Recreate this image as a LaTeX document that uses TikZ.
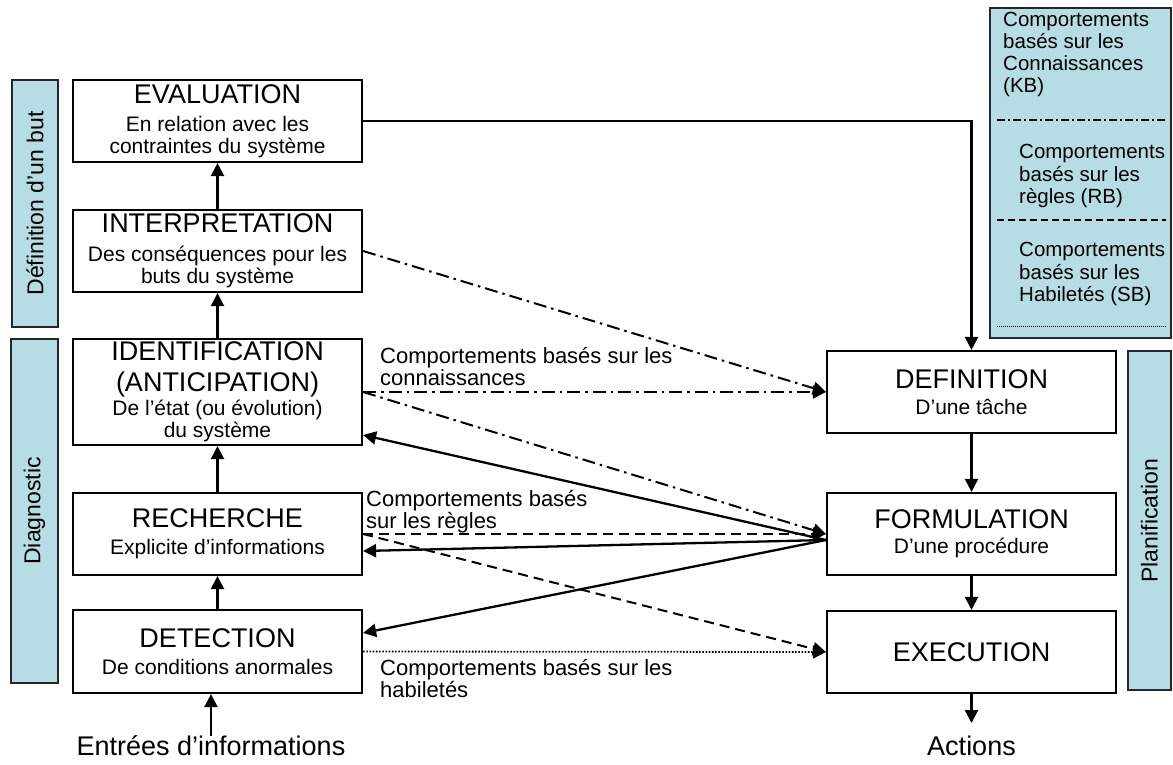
\documentclass[tikz,border=0pt]{standalone}
\usepackage{fontspec}
\setmainfont{Liberation Sans}
\usetikzlibrary{arrows.meta}
\definecolor{barblue}{RGB}{183,221,228}
\newcommand\hdf{\fontsize{27}{30}\selectfont}
\newcommand\bdf{\fontsize{21}{22}\selectfont}
\newcommand\lbf{\fontsize{22}{22}\selectfont}
\newcommand\lgf{\fontsize{20.5}{22}\selectfont}
\newcommand\brf{\fontsize{23}{26}\selectfont}
\newcommand\btf{\fontsize{27}{30}\selectfont}
\begin{document}
\begin{tikzpicture}[x=1pt,y=-1pt,
  pbox/.style={draw, line width=2.2pt, fill=white, minimum width=289pt, minimum height=82pt, inner sep=0pt, align=center, font=\bdf},
  sidebar/.style={draw, line width=1.8pt, draw=black!85, fill=barblue, inner sep=0pt},
  bartext/.style={rotate=90, font=\brf, inner sep=0pt},
  tip/.style={-{Triangle[length=13pt,width=13pt]}},
  conn/.style={line width=2.3pt, tip},
  kb/.style={line width=2pt, dash pattern=on 13pt off 5pt on 2.5pt off 5pt, tip},
  rb/.style={line width=2pt, dash pattern=on 10pt off 6pt, tip},
  sb/.style={line width=1.8pt, dash pattern=on 1.6pt off 1.6pt, tip},
  lbl/.style={font=\lbf, inner sep=0pt, anchor=base west},
  lgd/.style={font=\lgf, inner sep=0pt, anchor=base west}
]
\useasboundingbox (0,0) rectangle (1173,765);

% side bars
\node[sidebar, minimum width=46pt, minimum height=247pt] (bA) at (35,203.5) {};
\node[bartext] (bAt) at (bA.center) {Définition d’un but};
\node[sidebar, minimum width=47pt, minimum height=344pt] (bD) at (34.5,511) {};
\node[bartext] (bDt) at (bD.center) {Diagnostic};
\node[sidebar, minimum width=43pt, minimum height=339pt] (bP) at (1149.5,520.5) {};
\node[bartext] (bPt) at (bP.center) {Planification};

% legend
\node[sidebar, minimum width=181pt, minimum height=330pt] (leg) at (1080.5,173) {};
\node[lgd] (g1a) at (1003,27) {Comportements};
\node[lgd] (g1b) at (1003,49) {basés sur les};
\node[lgd] (g1c) at (1003,71) {Connaissances};
\node[lgd] (g1d) at (1003,93) {(KB)};
\draw[line width=1.2pt, dash pattern=on 8pt off 3pt on 2pt off 3pt] (997,120) -- (1166,120);
\node[lgd] (g2a) at (1019,159) {Comportements};
\node[lgd] (g2b) at (1019,182) {basés sur les};
\node[lgd] (g2c) at (1019,204) {règles (RB)};
\draw[line width=1.2pt, dash pattern=on 7pt off 4pt] (997,220) -- (1166,220);
\node[lgd] (g3a) at (1019,256) {Comportements};
\node[lgd] (g3b) at (1019,279) {basés sur les};
\node[lgd] (g3c) at (1019,301) {Habiletés (SB)};
\draw[line width=1pt, dash pattern=on 1pt off 1pt] (997,326) -- (1166,326);

% left column boxes
\node[pbox] (eval) at (217.5,121) {{\hdf EVALUATION}\\[6pt]En relation avec les\\contraintes du système};
\node[pbox] (interp) at (217.5,251) {{\hdf INTERPRETATION}\\[7pt]Des conséquences pour les\\buts du système};
\node[pbox, minimum height=106pt] (ident) at (217.5,392) {{\hdf IDENTIFICATION}\\[9pt]{\hdf (ANTICIPATION)}\\[2pt]De l’état (ou évolution)\\du système};
\node[pbox] (rech) at (217.5,534) {{\hdf RECHERCHE}\\[5pt]Explicite d’informations};
\node[pbox, minimum height=83pt] (detect) at (217.5,651.5) {{\hdf DETECTION}\\[5pt]De conditions anormales};

% right column boxes
\node[pbox] (defn) at (971.5,392) {{\hdf DEFINITION}\\[4pt]D’une tâche};
\node[pbox] (form) at (971.5,534) {{\hdf FORMULATION}\\[3pt]D’une procédure};
\node[pbox] (exec) at (971.5,652) {{\hdf EXECUTION}};

% vertical flow
\draw[conn] (detect.north) -- (rech.south);
\draw[conn] (rech.north) -- (ident.south);
\draw[conn] (ident.north) -- (interp.south);
\draw[conn] (interp.north) -- (eval.south);
\draw[conn] (defn.south) -- (form.north);
\draw[conn] (form.south) -- (exec.north);
\draw[conn] (eval.east) -| (defn.north);

% behaviour connectors
\draw[kb] (interp.east) -- (defn.west);
\draw[kb] (ident.east) -- (defn.west);
\draw[kb] (ident.east) -- (form.west);
\draw[rb] (rech.east) -- (form.west);
\draw[rb] (rech.east) -- (exec.west);
\draw[sb] (detect.east) -- (exec.west);
\coordinate (fsrc) at ([yshift=-6pt]form.west);
\draw[conn] (fsrc) -- ([yshift=-43pt]ident.east);
\draw[conn] (fsrc) -- ([yshift=-17pt]rech.east);
\draw[conn] (fsrc) -- ([yshift=18.5pt]detect.east);

% labels
\node[lbl] (l1a) at (380,363) {Comportements basés sur les};
\node[lbl] (l1b) at (380,385) {connaissances};
\node[lbl] (l2a) at (366,506) {Comportements basés};
\node[lbl] (l2b) at (366,528) {sur les règles};
\node[lbl] (l3a) at (380,675) {Comportements basés sur les};
\node[lbl] (l3b) at (380,697) {habiletés};

% input / output
\node[font=\btf, inner sep=0pt, anchor=base] (inp) at (211,755) {Entrées d’informations};
\coordinate (inTop) at (211,736);
\draw[conn] (inTop) -- (inTop |- detect.south);
\node[font=\btf, inner sep=0pt, anchor=base] (act) at (971.5,755) {Actions};
\coordinate (actBot) at (971.5,723);
\draw[conn] (exec.south) -- (actBot);
\end{tikzpicture}
\end{document}
